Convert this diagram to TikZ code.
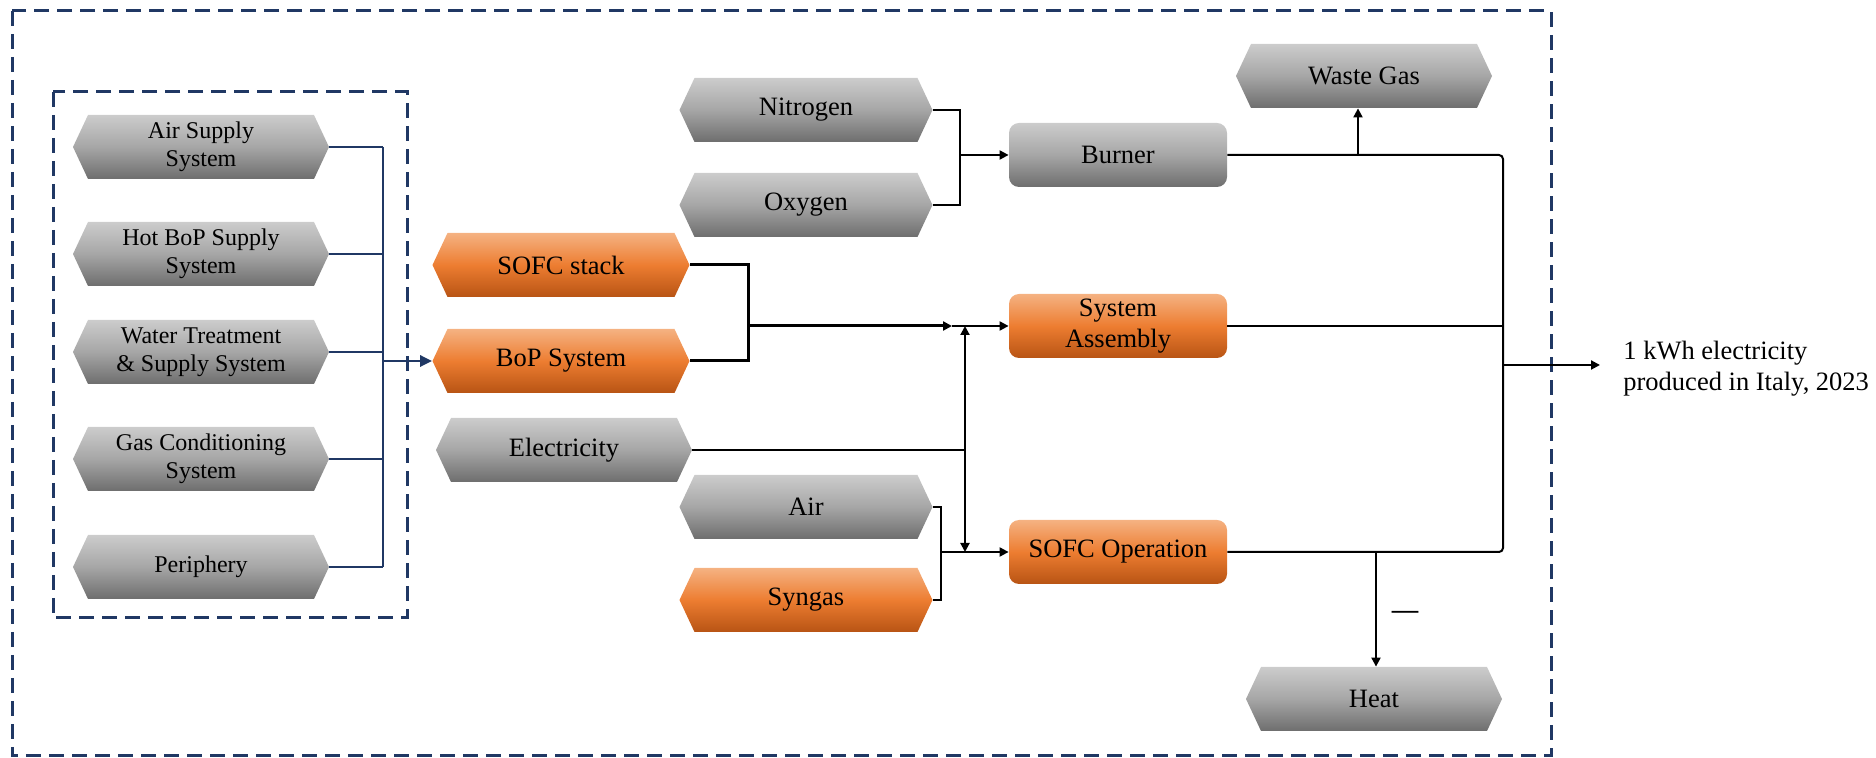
\documentclass[tikz,border=0pt]{standalone}
\usepackage{fontspec}
\setmainfont{Liberation Serif}
\usetikzlibrary{arrows.meta}

\definecolor{navy}{RGB}{32,56,100}
\definecolor{gtop}{RGB}{204,204,204}
\definecolor{gmid}{RGB}{166,166,166}
\definecolor{gbot}{RGB}{110,110,110}
\definecolor{otop}{RGB}{245,178,130}
\definecolor{omid}{RGB}{237,125,49}
\definecolor{obot}{RGB}{184,84,20}

% hexagonal process box: name, x, y, width, fill style, font style, text
\newcommand{\hexnode}[7]{%
  \path[#5] ({#2-#4/2},#3) -- ({#2-#4/2+15},{#3-32}) -- ({#2+#4/2-15},{#3-32})
    -- ({#2+#4/2},#3) -- ({#2+#4/2-15},{#3+32}) -- ({#2-#4/2+15},{#3+32}) -- cycle;
  \node[hexlabel,#6,minimum width={#4*0.5pt}] (#1) at (#2,#3) {#7};}

\begin{document}
\begin{tikzpicture}[x=0.5pt,y=-0.5pt,
  flow/.style={line width=1pt, black},
  heavyflow/.style={line width=1.5pt, black},
  bus/.style={line width=1.45pt, navy},
  tip/.style={-{Triangle[length=4.5pt,width=4.5pt]}},
  bigtip/.style={-{Triangle[length=6pt,width=5.5pt]}},
  bothtips/.style={{Triangle[length=4.5pt,width=4.5pt]}-{Triangle[length=4.5pt,width=4.5pt]}},
  frame/.style={navy, line width=1.5pt, dash pattern=on 7.5pt off 4pt},
  grayfill/.style={top color=gtop, bottom color=gbot, middle color=gmid},
  orangefill/.style={top color=otop, bottom color=obot, middle color=omid},
  hexlabel/.style={rectangle, inner sep=0pt, minimum height=32pt, align=center},
  bigtext/.style={font=\fontsize{13.25}{15.5}\selectfont},
  smalltext/.style={font=\fontsize{12}{14}\selectfont},
  rbox/.style={rectangle, rounded corners=5pt, minimum width=109pt,
    minimum height=32pt, inner sep=0pt, align=center, bigtext},
]
\useasboundingbox (0,0) rectangle (1876,758);

% system boundaries
\draw[frame] (12,11) rectangle (1551,756);
\draw[frame] (53,92) rectangle (407,618);

% balance-of-plant components
\hexnode{air}{201}{147}{256}{grayfill}{smalltext}{Air Supply\\System}
\hexnode{hot}{201}{254}{256}{grayfill}{smalltext}{Hot BoP Supply\\System}
\hexnode{water}{201}{352}{256}{grayfill}{smalltext}{Water Treatment\\\& Supply System}
\hexnode{gas}{201}{459}{256}{grayfill}{smalltext}{Gas Conditioning\\System}
\hexnode{peri}{201}{567}{256}{grayfill}{smalltext}{Periphery}

% manufacturing inputs
\hexnode{sofc}{561}{265}{257}{orangefill}{bigtext}{SOFC stack}
\hexnode{bop}{561}{361}{257}{orangefill}{bigtext}{BoP System}
\hexnode{elec}{564}{450}{256}{grayfill}{bigtext}{Electricity}

% operation inputs
\hexnode{nitro}{806}{110}{253}{grayfill}{bigtext}{Nitrogen}
\hexnode{oxy}{806}{205}{253}{grayfill}{bigtext}{Oxygen}
\hexnode{air2}{806}{507}{253}{grayfill}{bigtext}{Air}
\hexnode{syngas}{806}{600}{253}{orangefill}{bigtext}{Syngas}

% outputs
\hexnode{waste}{1364}{76}{256}{grayfill}{bigtext}{Waste Gas}
\hexnode{heat}{1374}{699}{256}{grayfill}{bigtext}{Heat}

% processes
\node[rbox, grayfill] (burner) at (1118,155) {Burner};
\node[rbox, orangefill] (sa) at (1118,326) {System\\Assembly};
\node[rbox, orangefill] (sofcop) at (1118,552) {SOFC Operation};

% functional unit
\node[bigtext, align=left, anchor=west, inner xsep=11.5pt, inner ysep=0pt]
  (out) at (1600,369) {1 kWh electricity\\produced in Italy, 2023};

% junction points
\coordinate (bluebar) at (383,361);
\coordinate (sj) at (748,326);
\coordinate (sahead) at (952,326);
\coordinate (ej) at (965,450);
\coordinate (nj) at (960,155);
\coordinate (aj) at (941,552);
\coordinate (rb) at (1503,365);
\coordinate (wj) at (1358,155);
\coordinate (hj) at (1376,552);

% BoP collector
\foreach \n in {air,hot,water,gas,peri}
  \draw[bus] (\n.east) -- (\n.east -| bluebar);
\draw[bus] (air.east -| bluebar) -- (peri.east -| bluebar);
\draw[bus,bigtip] (bluebar) -- (bop.west);

% system assembly inputs
\draw[heavyflow] (sofc.east) -- (sofc.east -| sj) -- (bop.east -| sj) -- (bop.east);
\draw[heavyflow,tip] (sj) -- (sahead);
\draw[flow,tip] (sahead) -- (sa.west);
\draw[flow] (elec.east) -- (ej);
\draw[flow,bothtips] (ej |- sa.west) -- (ej |- sofcop.west);

% burner inputs
\draw[flow] (nitro.east) -- (nitro.east -| nj) -- (oxy.east -| nj) -- (oxy.east);
\draw[flow,tip] (nj) -- (burner.west);

% operation inputs
\draw[flow] (air2.east) -- (air2.east -| aj) -- (syngas.east -| aj) -- (syngas.east);
\draw[flow,tip] (aj) -- (sofcop.west);

% output bus
\draw[flow, rounded corners=2pt] (burner.east) -- (burner.east -| rb)
  -- (sofcop.east -| rb) -- (sofcop.east);
\draw[flow] (sa.east) -- (sa.east -| rb);
\draw[flow,tip] (rb) -- (out.west |- rb);
\draw[flow,tip] (wj) -- (wj |- waste.south);
\draw[flow,tip] (hj) -- (hj |- heat.north);
\node[bigtext, font=\fontsize{13.25}{15.5}\selectfont\bfseries] (minus) at (1405,615) {\textemdash};
\end{tikzpicture}
\end{document}
